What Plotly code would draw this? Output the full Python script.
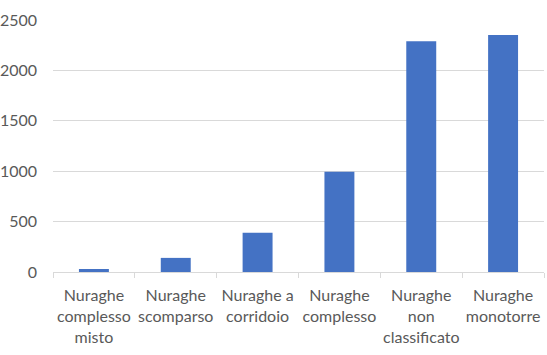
import plotly.graph_objects as go

categories = ["Nuraghe<br>complesso<br>misto", "Nuraghe<br>scomparso", "Nuraghe a<br>corridoio",
              "Nuraghe<br>complesso", "Nuraghe<br>non<br>classificato", "Nuraghe<br>monotorre"]
values = [30, 140, 390, 995, 2290, 2350]
y_ticks = [0, 500, 1000, 1500, 2000, 2500]

fig = go.Figure(go.Bar(x=categories, y=values, marker=dict(color="#4472C4", line=dict(width=0)),
                       width=0.366))

font = dict(family="Lato, Carlito, sans-serif", size=16, color="#595959")
fig.update_layout(
    width=547, height=355,
    margin=dict(l=53, r=3, t=20, b=83),
    paper_bgcolor="white", plot_bgcolor="white",
    showlegend=False,
    font=font,
)
fig.update_xaxes(
    showline=True, linecolor="#d9d9d9", linewidth=1,
    ticks="outside", tickson="boundaries", tickcolor="#d9d9d9", ticklen=5,
    showgrid=False, tickfont=font, tickangle=0, automargin=False,
    ticklabelstandoff=9,
)
fig.update_yaxes(
    range=[0, 2500], tickvals=y_ticks, showgrid=True, gridcolor="#d9d9d9", gridwidth=1,
    zeroline=False, showline=False, tickfont=font, ticks="", ticklabelstandoff=15,
    automargin=False,
)
fig.write_html("out.html", config={"displayModeBar": False},
               post_script="document.body.style.margin='0';")
